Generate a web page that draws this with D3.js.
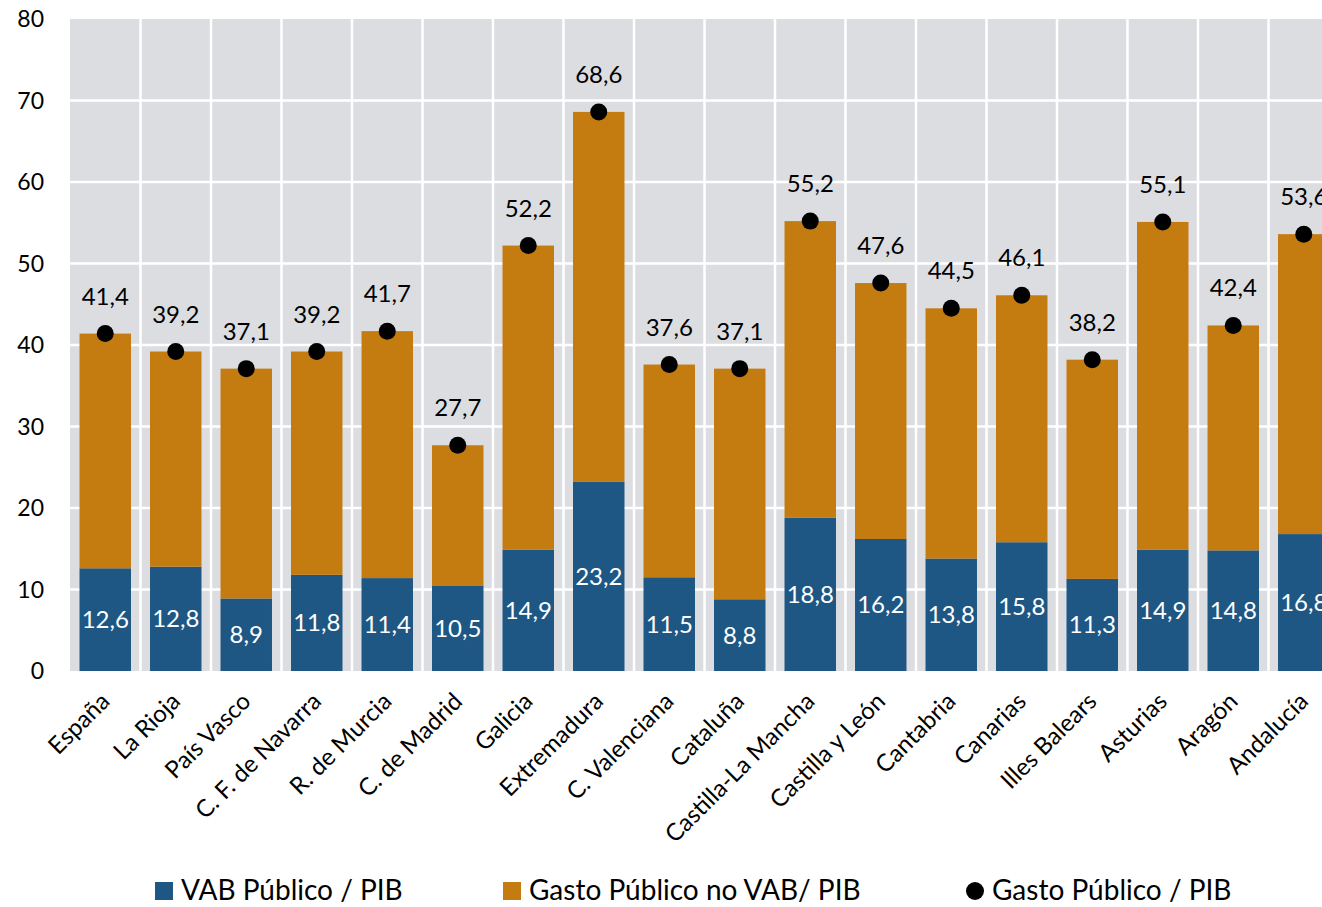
<!DOCTYPE html>
<html>
<head>
<meta charset="utf-8">
<script src="https://cdn.jsdelivr.net/npm/d3@7"></script>
<style>
  body { margin: 0; background: #fff; overflow: hidden; }
  text { font-family: Lato, "Open Sans", sans-serif; fill: #000; }
</style>
</head>
<body>
<div id="chart"></div>
<script>
// Data
var regiones = ["España", "La Rioja", "País Vasco", "C. F. de Navarra", "R. de Murcia",
  "C. de Madrid", "Galicia", "Extremadura", "C. Valenciana", "Cataluña",
  "Castilla-La Mancha", "Castilla y León", "Cantabria", "Canarias", "Illes Balears",
  "Asturias", "Aragón", "Andalucía"];

var vabPublico = [12.6, 12.8, 8.9, 11.8, 11.4, 10.5, 14.9, 23.2, 11.5, 8.8,
  18.8, 16.2, 13.8, 15.8, 11.3, 14.9, 14.8, 16.8];

var gastoNoVab = [28.8, 26.4, 28.2, 27.4, 30.3, 17.2, 37.3, 45.4, 26.1, 28.3,
  36.4, 31.4, 30.7, 30.3, 26.9, 40.2, 27.6, 36.8];

var gastoTotal = [41.4, 39.2, 37.1, 39.2, 41.7, 27.7, 52.2, 68.6, 37.6, 37.1,
  55.2, 47.6, 44.5, 46.1, 38.2, 55.1, 42.4, 53.6];

var yTicks = [0, 10, 20, 30, 40, 50, 60, 70, 80];

var colorVab = "#1e5783";
var colorGasto = "#c47b10";

var svgWidth = 1322;
var svgHeight = 907;

var margin = { top: 19, left: 70 };
var plotRight = 1339;   // plot runs past the right edge, like the original
var plotBottom = 671;

var fmt = function(v) { return d3.format(".1f")(v).replace(".", ","); };

var data = regiones.map(function(r, i) {
  return { name: r, vab: vabPublico[i], gasto: gastoNoVab[i], total: gastoTotal[i] };
});

var svg = d3.select("#chart")
  .append("svg")
  .attr("width", svgWidth)
  .attr("height", svgHeight);

var x = d3.scaleBand()
  .domain(regiones)
  .range([margin.left, plotRight])
  .paddingInner(0.27)
  .paddingOuter(0.135);

var y = d3.scaleLinear()
  .domain([0, 80])
  .range([plotBottom, margin.top]);

// plot background
svg.append("rect")
  .attr("x", margin.left)
  .attr("y", margin.top)
  .attr("width", plotRight - margin.left)
  .attr("height", plotBottom - margin.top)
  .attr("fill", "#dcdde1");

// horizontal gridlines
svg.append("g").selectAll("line")
  .data(yTicks.slice(1, -1))
  .enter().append("line")
  .attr("x1", margin.left)
  .attr("x2", plotRight)
  .attr("y1", d => y(d))
  .attr("y2", d => y(d))
  .attr("stroke", "#fff")
  .attr("stroke-width", 2.5);

// vertical gridlines between categories
var step = x.step();
svg.append("g").selectAll("line")
  .data(regiones.slice(1))
  .enter().append("line")
  .attr("x1", d => x(d) - x.paddingInner() * step / 2)
  .attr("x2", d => x(d) - x.paddingInner() * step / 2)
  .attr("y1", margin.top)
  .attr("y2", plotBottom)
  .attr("stroke", "#fff")
  .attr("stroke-width", 2.5);

// y axis labels
svg.append("g").selectAll("text")
  .data(yTicks)
  .enter().append("text")
  .attr("x", 44)
  .attr("y", d => y(d) + 8)
  .attr("text-anchor", "end")
  .style("font-size", "23px")
  .text(d => d);

// stacked bars
var bars = svg.append("g");
bars.selectAll(".vab")
  .data(data)
  .enter().append("rect")
  .attr("x", d => x(d.name))
  .attr("width", x.bandwidth())
  .attr("y", d => y(d.vab))
  .attr("height", d => y(0) - y(d.vab))
  .attr("fill", colorVab);

bars.selectAll(".gasto")
  .data(data)
  .enter().append("rect")
  .attr("x", d => x(d.name))
  .attr("width", x.bandwidth())
  .attr("y", d => y(d.vab + d.gasto))
  .attr("height", d => y(d.vab) - y(d.vab + d.gasto))
  .attr("fill", colorGasto);

// labels in the blue segment
svg.append("g").selectAll("text")
  .data(data)
  .enter().append("text")
  .attr("x", d => x(d.name) + x.bandwidth() / 2)
  .attr("y", d => (y(0) + y(d.vab)) / 2 + 8.5)
  .attr("text-anchor", "middle")
  .style("font-size", "24px")
  .style("fill", "#fff")
  .text(d => fmt(d.vab));

// total dots
svg.append("g").selectAll("circle")
  .data(data)
  .enter().append("circle")
  .attr("cx", d => x(d.name) + x.bandwidth() / 2)
  .attr("cy", d => y(d.total))
  .attr("r", 8.5)
  .attr("fill", "#000");

svg.append("g").selectAll("text")
  .data(data)
  .enter().append("text")
  .attr("x", d => x(d.name) + x.bandwidth() / 2)
  .attr("y", d => y(d.total) - 29)
  .attr("text-anchor", "middle")
  .style("font-size", "24px")
  .text(d => fmt(d.total));

// category labels, rotated
svg.append("g").selectAll("text")
  .data(regiones)
  .enter().append("text")
  .attr("transform", d => `translate(${x(d) + x.bandwidth() / 2 - 6}, 691) rotate(-45)`)
  .attr("text-anchor", "end")
  .attr("dy", "0.7em")
  .style("font-size", "24px")
  .text(d => d);

// legend
var legend = svg.append("g");
legend.append("rect").attr("x", 155).attr("y", 882).attr("width", 18).attr("height", 18).attr("fill", colorVab);
legend.append("text").attr("x", 181).attr("y", 900).style("font-size", "28px").text("VAB Público / PIB");
legend.append("rect").attr("x", 503).attr("y", 882).attr("width", 18).attr("height", 18).attr("fill", colorGasto);
legend.append("text").attr("x", 529).attr("y", 900).style("font-size", "28px").text("Gasto Público no VAB/ PIB");
legend.append("circle").attr("cx", 975).attr("cy", 891).attr("r", 9).attr("fill", "#000");
legend.append("text").attr("x", 992).attr("y", 900).style("font-size", "28px").text("Gasto Público / PIB");
</script>
</body>
</html>
